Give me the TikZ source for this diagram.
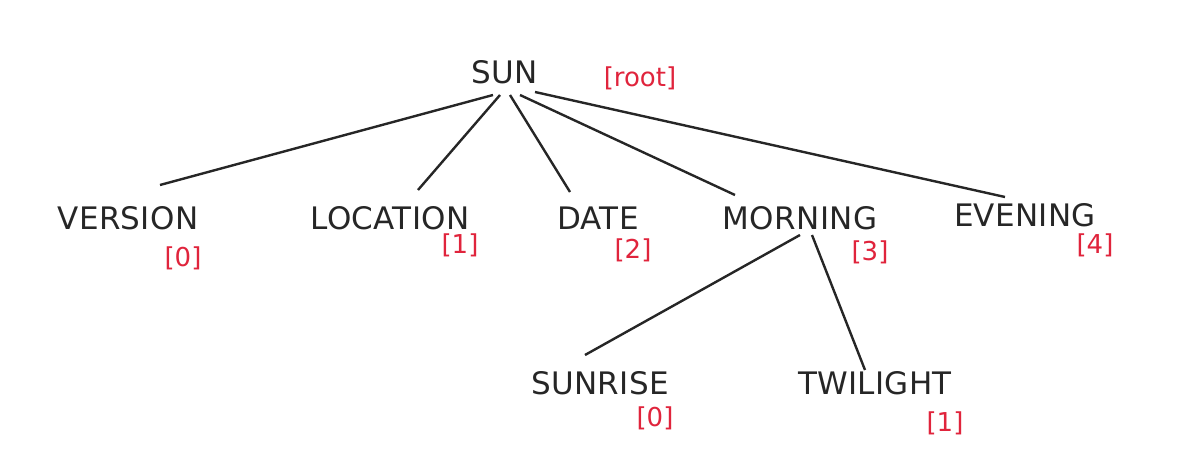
\documentclass[tikz,border=0pt]{standalone}
\usepackage{fontspec}
\setmainfont{DejaVu Sans}
\definecolor{lab}{HTML}{E0243C}
\begin{document}
\begin{tikzpicture}[x=1pt,y=-1pt,
  word/.style={font=\fontsize{31}{33}\selectfont\addfontfeature{LetterSpace=1}, inner sep=3pt, text=black!85},
  idx/.style={font=\fontsize{26}{28}\selectfont, text=lab, inner sep=1pt},
  edge/.style={line width=2.4pt, black!85}]
\useasboundingbox (0,0) rectangle (1181,465);
\node[word] (sun) at (505,72) {SUN};
\node[idx] (root) at (640,78) {[root]};
\node[word] (ver) at (128,218) {VERSION};
\node[idx] (i0) at (183,258) {[0]};
\node[word] (loc) at (390,218) {LOCATION};
\node[idx] (i1) at (460,245) {[1]};
\node[word] (date) at (598,218) {DATE};
\node[idx] (i2) at (633,250) {[2]};
\node[word] (mor) at (800,218) {MORNING};
\node[idx] (i3) at (870,252) {[3]};
\node[word] (eve) at (1025,215) {EVENING};
\node[idx] (i4) at (1095,245) {[4]};
\node[word] (sr) at (600,383) {SUNRISE};
\node[idx] (j0) at (655,418) {[0]};
\node[word] (tw) at (875,383) {TWILIGHT};
\node[idx] (j1) at (945,423) {[1]};
\coordinate (s1) at (493,95);
\coordinate (s2) at (500,95);
\coordinate (s3) at (510,95);
\coordinate (s4) at (520,95);
\coordinate (s5) at (535,92);
\coordinate (m1) at (800,235);
\coordinate (m2) at (812,235);
\coordinate (e1) at (160,185);
\coordinate (e2) at (418,190);
\coordinate (e3) at (570,192);
\coordinate (e4) at (735,195);
\coordinate (e5) at (1005,197);
\coordinate (e6) at (585,355);
\coordinate (e7) at (865,370);
\draw[edge] (s1) -- (e1);
\draw[edge] (s2) -- (e2);
\draw[edge] (s3) -- (e3);
\draw[edge] (s4) -- (e4);
\draw[edge] (s5) -- (e5);
\draw[edge] (m1) -- (e6);
\draw[edge] (m2) -- (e7);
\end{tikzpicture}
\end{document}
